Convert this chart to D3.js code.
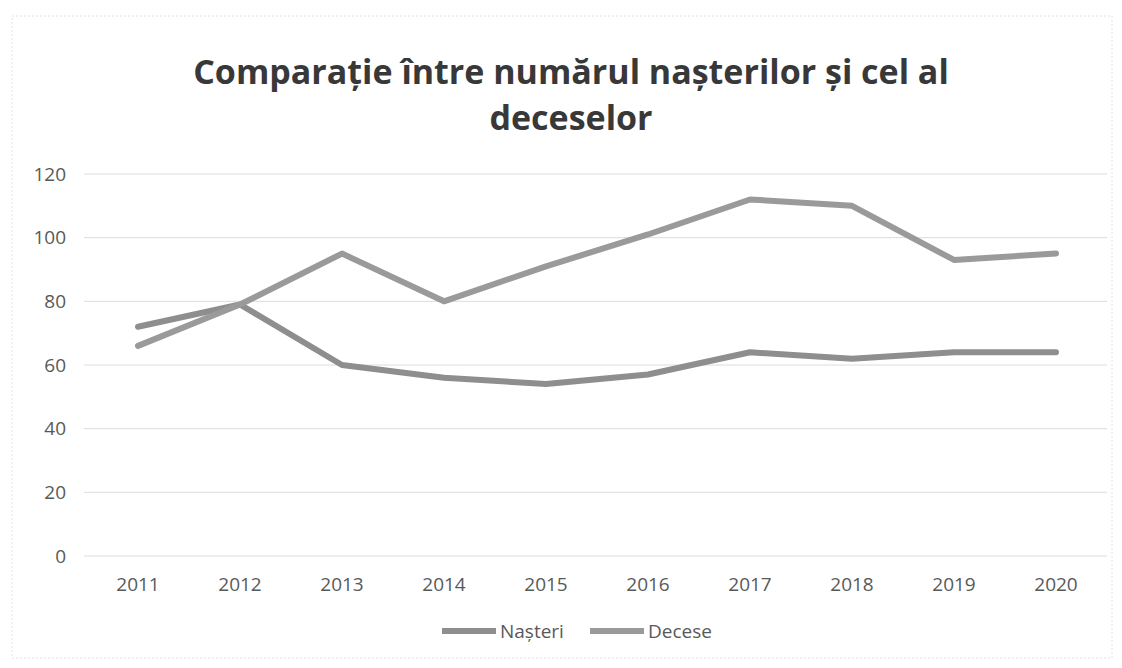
<!DOCTYPE html>
<html>
<head>
<meta charset="utf-8">
<script src="https://cdn.jsdelivr.net/npm/d3@7"></script>
<style>
  body { margin: 0; background: #fff; }
  #chart { width: 1122px; height: 668px; }
  text { font-family: "Open Sans", "DejaVu Sans", sans-serif; }
</style>
</head>
<body>
<div id="chart"></div>
<script>
// Data
const years = ['2011', '2012', '2013', '2014', '2015', '2016', '2017', '2018', '2019', '2020'];
const nasteri = [72, 79, 60, 56, 54, 57, 64, 62, 64, 64];
const decese = [66, 79, 95, 80, 91, 101, 112, 110, 93, 95];
const yTicks = [0, 20, 40, 60, 80, 100, 120];
const seriesNames = ['Nașteri', 'Decese'];
const titleLines = ['Comparație între numărul nașterilor și cel al', 'deceselor'];

const width = 1122, height = 668;
const svg = d3.select('#chart').append('svg')
    .attr('width', width)
    .attr('height', height);

// chart area border (faint, as in the scan)
svg.append('rect')
    .attr('x', 12).attr('y', 16)
    .attr('width', 1100).attr('height', 642)
    .attr('fill', 'none')
    .attr('stroke', '#e2e2e2')
    .attr('stroke-dasharray', '2,2');

const x = d3.scaleBand().domain(years).range([87, 1107]);
const y = d3.scaleLinear().domain([0, 120]).range([556, 174]);

// Title
const title = svg.append('g');
titleLines.forEach((t, i) => {
    title.append('text')
        .attr('x', 571)
        .attr('y', 84 + i * 46)
        .attr('text-anchor', 'middle')
        .attr('font-size', 34)
        .attr('font-weight', 'bold')
        .attr('fill', '#383838')
        .text(t);
});

// Gridlines
svg.append('g')
    .selectAll('line')
    .data(yTicks)
    .enter()
    .append('line')
    .attr('x1', 84).attr('x2', 1107)
    .attr('y1', d => y(d)).attr('y2', d => y(d))
    .attr('stroke', '#dcdcdc')
    .attr('stroke-width', 1);

// Y axis labels
const yAxis = svg.append('g')
    .attr('transform', 'translate(66,0)')
    .call(d3.axisLeft(y).tickValues(yTicks).tickSize(0).tickPadding(0));
yAxis.select('.domain').remove();
yAxis.selectAll('text')
    .attr('font-size', 19)
    .attr('font-family', '"Open Sans", sans-serif')
    .attr('fill', '#595959');

// X axis labels
const xAxis = svg.append('g')
    .attr('transform', 'translate(0,' + y(0) + ')')
    .call(d3.axisBottom(x).tickSize(0).tickPadding(22));
xAxis.select('.domain').remove();
xAxis.selectAll('text')
    .attr('font-size', 19)
    .attr('font-family', '"Open Sans", sans-serif')
    .attr('fill', '#595959');

// Lines
const series = [
    { name: seriesNames[0], values: nasteri, color: '#8e8e8e' },
    { name: seriesNames[1], values: decese, color: '#9a9a9a' }
];

const line = d3.line()
    .x((d, i) => x(years[i]) + x.bandwidth() / 2)
    .y(d => y(d));

svg.append('g')
    .selectAll('path')
    .data(series)
    .enter()
    .append('path')
    .attr('d', d => line(d.values))
    .attr('fill', 'none')
    .attr('stroke', d => d.color)
    .attr('stroke-width', 6)
    .attr('stroke-linejoin', 'round')
    .attr('stroke-linecap', 'round');

// Legend
const legendPos = [442, 590];
const legend = svg.append('g')
    .selectAll('g')
    .data(series)
    .enter()
    .append('g')
    .attr('transform', (d, i) => 'translate(' + legendPos[i] + ',631)');

legend.append('line')
    .attr('x1', 0).attr('x2', 54)
    .attr('stroke', d => d.color)
    .attr('stroke-width', 6);

legend.append('text')
    .attr('x', 58)
    .attr('dy', '0.35em')
    .attr('font-size', 19)
    .attr('fill', '#595959')
    .text(d => d.name);
</script>
</body>
</html>
